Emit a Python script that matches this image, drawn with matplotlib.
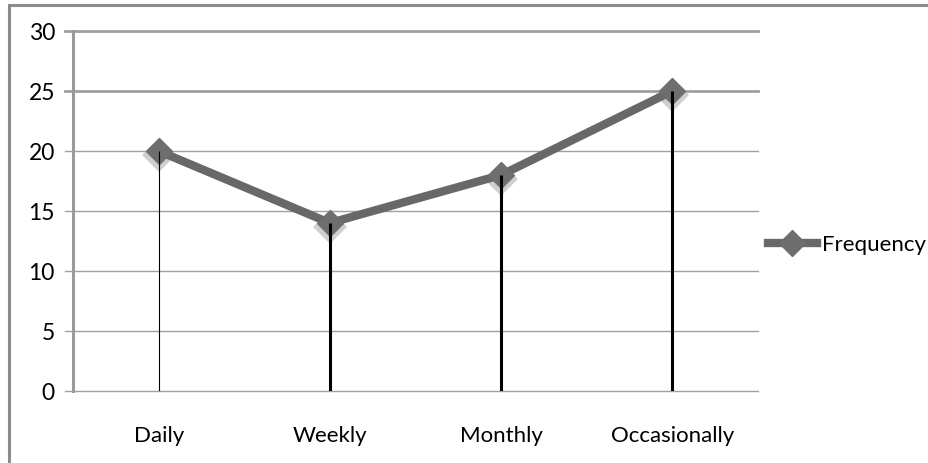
import matplotlib.pyplot as plt
from matplotlib.patches import Rectangle

# datos
categorias = ['Daily', 'Weekly', 'Monthly', 'Occasionally']
frecuencia = [20, 14, 18, 25]
ticks_y = [0, 5, 10, 15, 20, 25, 30]

plt.rcParams['font.family'] = ['Lato', 'DejaVu Sans']

fig = plt.figure(figsize=(9.29, 4.63), dpi=100)
W, H = 929, 463

# marco exterior del grafico (solo se ven los bordes izquierdo y superior)
fig.patches.append(Rectangle((9 / W, -0.2), 1.2, 1.2 - 5 / H, transform=fig.transFigure,
                             fill=False, edgecolor='#8c8c8c', linewidth=2.2))

ax = fig.add_axes([73 / W, 1 - 391 / H, (758 - 73) / W, (391 - 31) / H])
x = list(range(len(categorias)))

# lineas de cuadricula
for v in ticks_y:
    lw = 2.0 if v >= 25 else 1.0
    ax.axhline(v, color='#a0a0a0', linewidth=lw, zorder=1, xmin=-0.012, clip_on=False)

# sombra de los marcadores
ax.plot(x, [v - 0.35 for v in frecuencia], linestyle='none', marker='D', markersize=17,
        color='#b0b0b0', alpha=0.6, markeredgewidth=0, zorder=2)
ax.plot(x, frecuencia, color='#686868', linewidth=6, marker='D', markersize=13,
        markerfacecolor='#6e6e6e', markeredgecolor='#6e6e6e', zorder=3,
        label='Frequency', solid_joinstyle='miter')

# lineas de caida
for i, v in enumerate(frecuencia):
    ax.vlines(i, 0, v, color='black', linewidth=0.8 if i == 0 else 2.2, zorder=4)

ax.set_xlim(-0.5, len(categorias) - 0.5)
ax.set_ylim(0, 30)
ax.set_yticks(ticks_y)
ax.set_xticks(x)
ax.set_xticklabels(categorias)
ax.tick_params(axis='y', length=0, pad=13, labelsize=16.5)
ax.tick_params(axis='x', length=0, pad=25, labelsize=16)

for lado in ['top', 'right', 'bottom']:
    ax.spines[lado].set_visible(False)
ax.spines['left'].set_color('#9a9a9a')
ax.spines['left'].set_linewidth(2.2)

ax.legend(loc='center left', bbox_to_anchor=(0.995, 0.405), frameon=False,
          fontsize=16, handlelength=2.2, handletextpad=0.25, borderaxespad=0.2)

fig.savefig('out.png', dpi=100)
